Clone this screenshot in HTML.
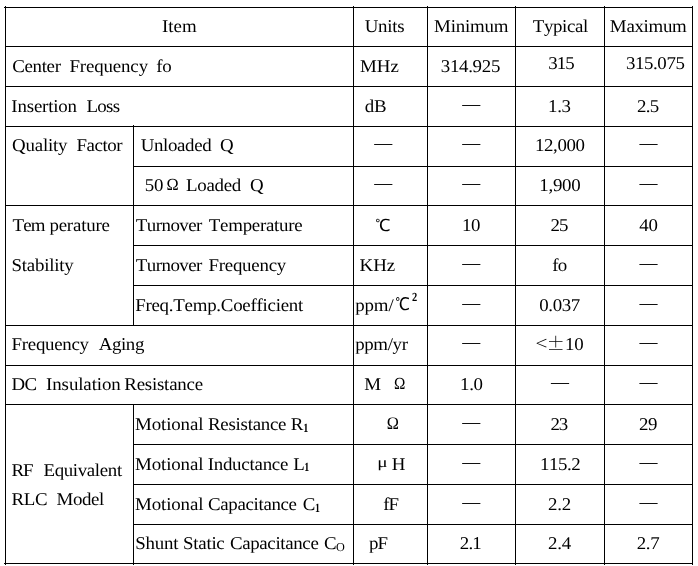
<!DOCTYPE html>
<html><head><meta charset="utf-8"><title>Crystal resonator specifications</title><style>
html,body{margin:0;padding:0;background:#fff;overflow:hidden;}
svg{display:block;will-change:transform;}
text{font-family:"Liberation Serif","Noto Serif CJK SC",serif;font-size:18px;fill:#000;font-kerning:none;font-variant-ligatures:none;text-rendering:geometricPrecision;}
text.b{font-weight:bold;}
text.d{text-rendering:auto;}
text.w{font-family:"WenQuanYi Zen Hei","Noto Sans CJK SC",sans-serif;}
text.c{font-family:"Noto Serif CJK SC","Liberation Serif",serif;}
</style></head><body>
<svg width="698" height="566" viewBox="0 0 698 566">
<rect width="698" height="566" fill="#fff"/>
<g fill="#000">
<rect x="4" y="7" width="689" height="1"/>
<rect x="4" y="563" width="689" height="1"/>
<rect x="5" y="46" width="688" height="1"/>
<rect x="5" y="86" width="688" height="1"/>
<rect x="5" y="126" width="688" height="1"/>
<rect x="5" y="205" width="688" height="1"/>
<rect x="5" y="325" width="688" height="1"/>
<rect x="5" y="365" width="688" height="1"/>
<rect x="5" y="404" width="688" height="1"/>
<rect x="133" y="166" width="560" height="1"/>
<rect x="133" y="245" width="560" height="1"/>
<rect x="133" y="285" width="560" height="1"/>
<rect x="133" y="444" width="560" height="1"/>
<rect x="133" y="484" width="560" height="1"/>
<rect x="133" y="524" width="560" height="1"/>
<rect x="5" y="6" width="1" height="559"/>
<rect x="353" y="6" width="1" height="559"/>
<rect x="427" y="6" width="1" height="559"/>
<rect x="515" y="6" width="1" height="559"/>
<rect x="604" y="6" width="1" height="559"/>
<rect x="692" y="6" width="1" height="559"/>
<rect x="133" y="125" width="1" height="201"/>
<rect x="133" y="404" width="1" height="161"/>
</g>
<g>
<text id="h0" x="162.08" y="32.00" textLength="33.00" lengthAdjust="spacing" transform="matrix(1.05 0 0 1.0 -8.104 0.000)">Item</text>
<text id="h1" x="364.70" y="32.00" textLength="38.05" lengthAdjust="spacing" transform="matrix(1.05 0 0 1.0 -18.235 0.000)">Units</text>
<text id="h2" x="434.04" y="32.00" textLength="70.82" lengthAdjust="spacing" transform="matrix(1.05 0 0 1.0 -21.702 0.000)">Minimum</text>
<text id="h3" x="532.75" y="32.00" textLength="52.92" lengthAdjust="spacing" transform="matrix(1.05 0 0 1.0 -26.637 0.000)">Typical</text>
<text id="h4" x="609.89" y="32.00" textLength="73.20" lengthAdjust="spacing" transform="matrix(1.05 0 0 1.0 -30.495 0.000)">Maximum</text>
<text id="r1a" x="12.30" y="72.00" textLength="46.36" lengthAdjust="spacing" transform="matrix(1.05 0 0 1.0 -0.615 0.000)">Center</text>
<text id="r1b" x="69.40" y="72.00" textLength="74.95" lengthAdjust="spacing" transform="matrix(1.05 0 0 1.0 -3.470 0.000)">Frequency</text>
<text id="r1c" x="156.25" y="72.00" textLength="14.80" lengthAdjust="spacing" transform="matrix(1.05 0 0 1.0 -7.812 0.000)">fo</text>
<text id="r1d" x="360.04" y="72.00" textLength="36.90" lengthAdjust="spacing" transform="matrix(1.05 0 0 1.0 -18.002 0.000)">MHz</text>
<text id="r1e" x="440.82" y="72.00" textLength="56.69" lengthAdjust="spacing" transform="matrix(1.05 0 0 1.0 -22.041 0.000)">314.925</text>
<text id="r1f" x="548.18" y="69.00" textLength="25.35" lengthAdjust="spacing" transform="matrix(1.05 0 0 1.0 -27.409 0.000)">315</text>
<text id="r1g" x="625.96" y="69.00" textLength="56.12" lengthAdjust="spacing" transform="matrix(1.05 0 0 1.0 -31.298 0.000)">315.075</text>
<text id="r2a" x="11.39" y="112.00" textLength="62.52" lengthAdjust="spacing" transform="matrix(1.05 0 0 1.0 -0.569 0.000)">Insertion</text>
<text id="r2b" x="86.45" y="112.00" textLength="32.13" lengthAdjust="spacing" transform="matrix(1.05 0 0 1.0 -4.322 0.000)">Loss</text>
<text id="r2c" x="364.78" y="112.00" textLength="20.90" lengthAdjust="spacing" transform="matrix(1.05 0 0 1.0 -18.239 0.000)">dB</text>
<text id="r2dn" x="462.15" y="110.00" class="d">—</text>
<text id="r2e" x="548.12" y="112.00" textLength="21.85" lengthAdjust="spacing" transform="matrix(1.05 0 0 1.0 -27.406 0.000)">1.3</text>
<text id="r2f" x="637.06" y="112.00" textLength="21.16" lengthAdjust="spacing" transform="matrix(1.05 0 0 1.0 -31.853 0.000)">2.5</text>
<text id="r3a" x="11.96" y="151.00" textLength="52.96" lengthAdjust="spacing" transform="matrix(1.05 0 0 1.0 -0.598 0.000)">Quality</text>
<text id="r3b" x="76.52" y="151.00" textLength="43.85" lengthAdjust="spacing" transform="matrix(1.05 0 0 1.0 -3.826 0.000)">Factor</text>
<text id="r3c" x="140.69" y="151.00" textLength="67.57" lengthAdjust="spacing" transform="matrix(1.05 0 0 1.0 -7.034 0.000)">Unloaded</text>
<text id="r3d" x="220.06" y="151.00" transform="matrix(1.05 0 0 1.0 -11.003 0.000)">Q</text>
<text id="r3du" x="374.17" y="149.00" class="d">—</text>
<text id="r3dn" x="462.15" y="149.00" class="d">—</text>
<text id="r3dx" x="639.61" y="149.00" class="d">—</text>
<text id="r3e" x="534.98" y="151.00" textLength="47.65" lengthAdjust="spacing" transform="matrix(1.05 0 0 1.0 -26.749 0.000)">12,000</text>
<text id="r4a" x="144.66" y="191.00" textLength="17.79" lengthAdjust="spacing" transform="matrix(1.05 0 0 1.0 -7.233 0.000)">50</text>
<text id="r4b" x="166.40" y="190.28" style="font-size:16.88px" transform="matrix(0.970326140383932 0 0 1.0 4.938 0.000)">Ω</text>
<text id="r4c" x="186.04" y="191.00" textLength="52.63" lengthAdjust="spacing" transform="matrix(1.05 0 0 1.0 -9.302 0.000)">Loaded</text>
<text id="r4d" x="249.93" y="191.00" transform="matrix(1.05 0 0 1.0 -12.497 0.000)">Q</text>
<text id="r4du" x="374.17" y="189.00" class="d">—</text>
<text id="r4dn" x="462.15" y="189.00" class="d">—</text>
<text id="r4dx" x="639.61" y="189.00" class="d">—</text>
<text id="r4e" x="539.26" y="191.00" textLength="39.45" lengthAdjust="spacing" transform="matrix(1.05 0 0 1.0 -26.963 0.000)">1,900</text>
<text id="r5a" x="12.60" y="231.00" textLength="31.43" lengthAdjust="spacing" transform="matrix(1.05 0 0 1.0 -0.630 0.000)">Tem</text>
<text id="r5b" x="49.40" y="231.00" textLength="57.66" lengthAdjust="spacing" transform="matrix(1.05 0 0 1.0 -2.470 0.000)">perature</text>
<text id="r5c" x="135.84" y="231.00" textLength="63.35" lengthAdjust="spacing" transform="matrix(1.05 0 0 1.0 -6.792 0.000)">Turnover</text>
<text id="r5d" x="208.84" y="231.00" textLength="89.36" lengthAdjust="spacing" transform="matrix(1.05 0 0 1.0 -10.442 0.000)">Temperature</text>
<text id="r5e" x="375.19" y="230.87" style="font-size:16.69px" class="w" transform="matrix(0.9874212488775719 0 0 1.0 4.719 0.000)">℃</text>
<text id="r5f" x="462.01" y="231.00" textLength="17.68" lengthAdjust="spacing" transform="matrix(1.05 0 0 1.0 -23.100 0.000)">10</text>
<text id="r5g" x="550.40" y="231.00" textLength="17.25" lengthAdjust="spacing" transform="matrix(1.05 0 0 1.0 -27.520 0.000)">25</text>
<text id="r5h" x="639.28" y="231.00" textLength="17.69" lengthAdjust="spacing" transform="matrix(1.05 0 0 1.0 -31.964 0.000)">40</text>
<text id="r6a" x="11.61" y="271.00" textLength="59.13" lengthAdjust="spacing" transform="matrix(1.05 0 0 1.0 -0.580 0.000)">Stability</text>
<text id="r6b" x="135.84" y="271.00" textLength="63.35" lengthAdjust="spacing" transform="matrix(1.05 0 0 1.0 -6.792 0.000)">Turnover</text>
<text id="r6c" x="208.40" y="271.00" textLength="74.20" lengthAdjust="spacing" transform="matrix(1.05 0 0 1.0 -10.420 0.000)">Frequency</text>
<text id="r6d" x="359.64" y="271.00" textLength="33.75" lengthAdjust="spacing" transform="matrix(1.05 0 0 1.0 -17.982 0.000)">KHz</text>
<text id="r6dn" x="462.15" y="269.00" class="d">—</text>
<text id="r6dx" x="639.61" y="269.00" class="d">—</text>
<text id="r6e" x="552.15" y="271.00" textLength="14.36" lengthAdjust="spacing" transform="matrix(1.05 0 0 1.0 -27.607 0.000)">fo</text>
<text id="r7a" x="135.20" y="311.00" textLength="160.07" lengthAdjust="spacing" transform="matrix(1.05 0 0 1.0 -6.760 0.000)">Freq.Temp.Coefficient</text>
<text id="r7b" x="355.13" y="311.00" textLength="36.74" lengthAdjust="spacing" transform="matrix(1.05 0 0 1.0 -17.756 0.000)">ppm/</text>
<text id="r7c" x="395.20" y="310.04" style="font-size:17.46px" class="w" transform="matrix(0.9049098060447339 0 0 1.0 37.579 0.000)">℃</text>
<text id="r7d" x="411.92" y="301.36" style="font-size:12.38px" font-weight="bold" class="b" transform="matrix(0.8487268449289989 0 0 1.0 62.312 0.000)">2</text>
<text id="r7dn" x="462.15" y="309.00" class="d">—</text>
<text id="r7dx" x="639.61" y="309.00" class="d">—</text>
<text id="r7e" x="539.19" y="311.00" textLength="39.17" lengthAdjust="spacing" transform="matrix(1.05 0 0 1.0 -26.960 0.000)">0.037</text>
<text id="r8a" x="11.59" y="350.00" textLength="73.75" lengthAdjust="spacing" transform="matrix(1.05 0 0 1.0 -0.579 0.000)">Frequency</text>
<text id="r8b" x="98.72" y="350.00" textLength="43.48" lengthAdjust="spacing" transform="matrix(1.05 0 0 1.0 -4.936 0.000)">Aging</text>
<text id="r8c" x="355.13" y="350.00" textLength="50.30" lengthAdjust="spacing" transform="matrix(1.05 0 0 1.0 -17.756 0.000)">ppm/yr</text>
<text id="r8dn" x="462.15" y="348.00" class="d">—</text>
<text id="r8dx" x="639.61" y="348.00" class="d">—</text>
<text id="r8d" x="535.35" y="348.98" style="font-size:16.27px" class="c" transform="matrix(1.3582040548292975 0 0 1.0 -191.765 0.000)">&lt;</text>
<text id="r8e" x="546.77" y="350.00" class="c">±</text>
<text id="r8f" x="565.01" y="350.00" textLength="17.83" lengthAdjust="spacing" transform="matrix(1.05 0 0 1.0 -28.250 0.000)">10</text>
<text id="r9a" x="11.64" y="390.00" textLength="24.30" lengthAdjust="spacing" transform="matrix(1.05 0 0 1.0 -0.582 0.000)">DC</text>
<text id="r9b" x="46.10" y="390.00" textLength="71.11" lengthAdjust="spacing" transform="matrix(1.05 0 0 1.0 -2.305 0.000)">Insulation</text>
<text id="r9c" x="124.31" y="390.00" textLength="75.02" lengthAdjust="spacing" transform="matrix(1.05 0 0 1.0 -6.216 0.000)">Resistance</text>
<text id="r9d" x="364.39" y="390.00" transform="matrix(1.05 0 0 1.0 -18.219 0.000)">M</text>
<text id="r9e" x="393.89" y="389.28" style="font-size:16.87px" transform="matrix(0.9063344341174323 0 0 1.0 36.894 0.000)">Ω</text>
<text id="r9f" x="460.02" y="390.00" textLength="21.89" lengthAdjust="spacing" transform="matrix(1.05 0 0 1.0 -23.001 0.000)">1.0</text>
<text id="r9dt" x="550.88" y="388.00" class="d">—</text>
<text id="r9dx" x="639.61" y="388.00" class="d">—</text>
<text id="r10a" x="135.04" y="430.00" textLength="65.18" lengthAdjust="spacing" transform="matrix(1.05 0 0 1.0 -6.752 0.000)">Motional</text>
<text id="r10b" x="207.91" y="430.00" textLength="74.87" lengthAdjust="spacing" transform="matrix(1.05 0 0 1.0 -10.395 0.000)">Resistance</text>
<text id="r10c" x="290.78" y="430.00" transform="matrix(1.05 0 0 1.0 -14.539 0.000)">R</text>
<text id="r10d" x="303.35" y="431.67" style="font-size:12.70px" font-weight="bold" class="b" transform="matrix(0.8044573664339065 0 0 1.0 59.318 0.000)">1</text>
<text id="r10e" x="386.78" y="429.20" style="font-size:17.57px" transform="matrix(0.9326250827299164 0 0 1.0 26.059 0.000)">Ω</text>
<text id="r10dn" x="462.15" y="428.00" class="d">—</text>
<text id="r10f" x="550.62" y="430.00" textLength="16.85" lengthAdjust="spacing" transform="matrix(1.05 0 0 1.0 -27.531 0.000)">23</text>
<text id="r10g" x="639.06" y="430.00" textLength="17.47" lengthAdjust="spacing" transform="matrix(1.05 0 0 1.0 -31.953 0.000)">29</text>
<text id="r11a" x="11.59" y="476.00" textLength="20.96" lengthAdjust="spacing" transform="matrix(1.05 0 0 1.0 -0.579 0.000)">RF</text>
<text id="r11b" x="43.47" y="476.00" textLength="74.94" lengthAdjust="spacing" transform="matrix(1.05 0 0 1.0 -2.174 0.000)">Equivalent</text>
<text id="r11c" x="135.04" y="470.00" textLength="65.18" lengthAdjust="spacing" transform="matrix(1.05 0 0 1.0 -6.752 0.000)">Motional</text>
<text id="r11d" x="207.66" y="470.00" textLength="76.93" lengthAdjust="spacing" transform="matrix(1.05 0 0 1.0 -10.383 0.000)">Inductance</text>
<text id="r11e" x="293.13" y="470.00" transform="matrix(1.05 0 0 1.0 -14.656 0.000)">L</text>
<text id="r11f" x="304.34" y="471.37" style="font-size:12.48px" font-weight="bold" class="b" transform="matrix(0.8048706805623543 0 0 1.0 59.386 0.000)">1</text>
<text id="r11g" x="377.35" y="467.29" style="font-size:14.70px" transform="matrix(1.3148709318874365 0 0 1.0 -118.818 0.000)">μ</text>
<text id="r11h" x="391.87" y="470.00" transform="matrix(1.05 0 0 1.0 -19.593 0.000)">H</text>
<text id="r11dn" x="462.15" y="468.00" class="d">—</text>
<text id="r11dx" x="639.61" y="468.00" class="d">—</text>
<text id="r11i" x="540.02" y="470.00" textLength="38.69" lengthAdjust="spacing" transform="matrix(1.05 0 0 1.0 -27.001 0.000)">115.2</text>
<text id="r12a" x="11.59" y="505.00" textLength="34.30" lengthAdjust="spacing" transform="matrix(1.05 0 0 1.0 -0.579 0.000)">RLC</text>
<text id="r12b" x="56.52" y="505.00" textLength="45.42" lengthAdjust="spacing" transform="matrix(1.05 0 0 1.0 -2.826 0.000)">Model</text>
<text id="r12c" x="135.04" y="510.00" textLength="65.18" lengthAdjust="spacing" transform="matrix(1.05 0 0 1.0 -6.752 0.000)">Motional</text>
<text id="r12d" x="207.93" y="510.00" textLength="84.86" lengthAdjust="spacing" transform="matrix(1.05 0 0 1.0 -10.396 0.000)">Capacitance</text>
<text id="r12e" x="302.63" y="510.00" transform="matrix(1.05 0 0 1.0 -15.131 0.000)">C</text>
<text id="r12f" x="314.89" y="511.72" style="font-size:12.59px" font-weight="bold" class="b" transform="matrix(0.7829111433877538 0 0 1.0 68.360 0.000)">1</text>
<text id="r12g" x="383.13" y="510.00" textLength="15.18" lengthAdjust="spacing" transform="matrix(1.05 0 0 1.0 -19.156 0.000)">fF</text>
<text id="r12dn" x="462.15" y="508.00" class="d">—</text>
<text id="r12dx" x="639.61" y="508.00" class="d">—</text>
<text id="r12h" x="548.06" y="510.00" textLength="22.11" lengthAdjust="spacing" transform="matrix(1.05 0 0 1.0 -27.403 0.000)">2.2</text>
<text id="r13a" x="135.31" y="549.00" textLength="41.09" lengthAdjust="spacing" transform="matrix(1.05 0 0 1.0 -6.766 0.000)">Shunt</text>
<text id="r13b" x="183.10" y="549.00" textLength="39.69" lengthAdjust="spacing" transform="matrix(1.05 0 0 1.0 -9.155 0.000)">Static</text>
<text id="r13c" x="229.93" y="549.00" textLength="84.66" lengthAdjust="spacing" transform="matrix(1.05 0 0 1.0 -11.497 0.000)">Capacitance</text>
<text id="r13d" x="323.99" y="549.00" transform="matrix(1.05 0 0 1.0 -16.199 0.000)">C</text>
<text id="r13e" x="336.10" y="550.80" style="font-size:12.12px" transform="matrix(1.007497314209014 0 0 1.0 -2.520 0.000)">O</text>
<text id="r13f" x="369.14" y="549.00" textLength="18.07" lengthAdjust="spacing" transform="matrix(1.05 0 0 1.0 -18.457 0.000)">pF</text>
<text id="r13g" x="459.83" y="549.00" textLength="20.78" lengthAdjust="spacing" transform="matrix(1.05 0 0 1.0 -22.992 0.000)">2.1</text>
<text id="r13h" x="548.06" y="549.00" textLength="22.13" lengthAdjust="spacing" transform="matrix(1.05 0 0 1.0 -27.403 0.000)">2.4</text>
<text id="r13i" x="636.83" y="549.00" textLength="21.67" lengthAdjust="spacing" transform="matrix(1.05 0 0 1.0 -31.842 0.000)">2.7</text>
</g>
</svg>
</body></html>
